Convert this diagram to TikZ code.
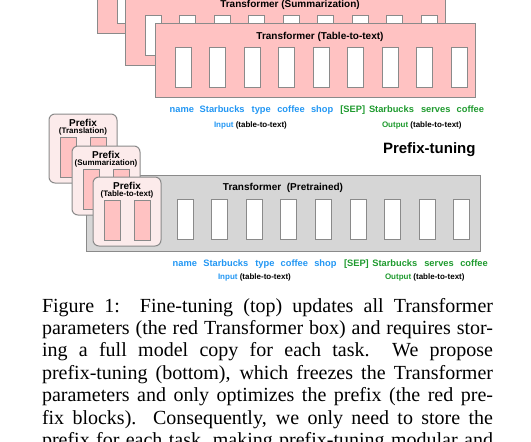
\documentclass[tikz,border=0pt]{standalone}
\usepackage{fontspec}
\setmainfont{Liberation Serif}
\newfontfamily\hv{Liberation Sans}
\usetikzlibrary{positioning}
\definecolor{boxpink}{HTML}{FFC2C2}
\definecolor{prefpink}{HTML}{FCEBEB}
\definecolor{frozen}{HTML}{D6D6D6}
\definecolor{edge}{HTML}{8A8A8A}
\definecolor{inblue}{HTML}{2196F3}
\definecolor{outgreen}{HTML}{1E9A2E}
\newcommand{\capline}[1]{\hbox to\hsize{#1}}

\begin{document}
\begin{tikzpicture}[x=1pt, y=-1pt,
    every node/.style={inner sep=0pt, outer sep=0pt},
    tbox/.style={draw=edge, line width=1pt, fill=boxpink, anchor=north west,
                 minimum width=320pt, minimum height=74pt},
    pbox/.style={draw=edge, line width=1pt, fill=frozen, anchor=north west,
                 minimum width=394pt, minimum height=76pt},
    pfbox/.style={draw=edge, line width=1pt, fill=prefpink, rounded corners=6pt,
                  anchor=north west, minimum width=68pt, minimum height=69pt},
    slot/.style={draw=edge, line width=0.8pt, fill=white, anchor=north west,
                 minimum width=16pt, minimum height=40pt},
    pslot/.style={slot, fill=boxpink},
    ttitle/.style={font=\hv\bfseries\fontsize{10}{12}\selectfont},
    subtitle/.style={font=\hv\bfseries\fontsize{8}{10}\selectfont},
    tok/.style={anchor=base west, font=\hv\bfseries\fontsize{9.3}{11}\selectfont},
    lab/.style={anchor=base west, font=\hv\bfseries\fontsize{8}{10}\selectfont}]
  \useasboundingbox (0,0) rectangle (531,442);
  \clip (0,0) rectangle (531,442);

  % fine-tuning: one full transformer per task
  \foreach \bx/\by/\task/\nm in {97/-41/Translation/ftA, 125/-9/Summarization/ftB,
                                155/23/Table-to-text/ftC} {
    \node[tbox] (\nm) at (\bx,\by) {};
    \node[ttitle] (\nm-t) at ([xshift=5pt, yshift=-13.5pt]\nm.north) {Transformer (\task)};
    \foreach \k in {0,...,8}
      \node[slot] (\nm-s\k) at (\bx+20+34.5*\k, \by+24) {};
  }

  % tokens (top)
  \foreach \x/\w [count=\i] in {169.7/name, 199.7/Starbucks, 251.7/type,
                                277.3/coffee, 311/shop}
    \node[tok, text=inblue] (inA-\i) at (\x,112) {\w};
  \foreach \x/\w [count=\i] in {340.3/{[SEP]}, 369/Starbucks, 421/serves, 456.7/coffee}
    \node[tok, text=outgreen] (outA-\i) at (\x,112) {\w};
  \node[lab] (inlabA) at (214,127) {\textcolor{inblue}{Input} (table-to-text)};
  \node[lab] (outlabA) at (382,127) {\textcolor{outgreen}{Output} (table-to-text)};

  \node[anchor=base west, font=\hv\bfseries\fontsize{15}{18}\selectfont]
    (ptlabel) at (383,153.5) {Prefix-tuning};

  % prefix-tuning: frozen transformer
  \node[pbox] (pre) at (86,175) {};
  \node[ttitle] (pre-t) at ([yshift=-13pt]pre.north) {Transformer~~(Pretrained)};
  \foreach \k in {0,...,8}
    \node[slot] (pre-s\k) at (177+34.6*\k, 199) {};

  % one prefix per task
  \foreach \bx/\by/\task/\nm in {49/114/Translation/pfA, 72/146/Summarization/pfB,
                                93/177/Table-to-text/pfC} {
    \node[pfbox] (\nm) at (\bx,\by) {};
    \node[ttitle] (\nm-t) at ([yshift=-8.5pt]\nm.north) {Prefix};
    \node[subtitle] (\nm-st) at ([yshift=-17.5pt]\nm.north) {(\task)};
    \node[pslot] (\nm-s1) at (\bx+11, \by+23) {};
    \node[pslot] (\nm-s2) at (\bx+41, \by+23) {};
  }

  % tokens (bottom)
  \foreach \x/\w [count=\i] in {172.7/name, 203.3/Starbucks, 255.3/type,
                                280.7/coffee, 314.3/shop}
    \node[tok, text=inblue] (inB-\i) at (\x,266) {\w};
  \foreach \x/\w [count=\i] in {344/{[SEP]}, 372.3/Starbucks, 424.3/serves, 460.3/coffee}
    \node[tok, text=outgreen] (outB-\i) at (\x,266) {\w};
  \node[lab] (inlabB) at (218,279) {\textcolor{inblue}{Input} (table-to-text)};
  \node[lab] (outlabB) at (385,279) {\textcolor{outgreen}{Output} (table-to-text)};

  % caption
  \node[anchor=base west] (cap) at (42,312) {\vtop{\hsize=451pt
      \fontsize{20}{22.4}\selectfont \baselineskip=22.4pt
      \capline{Figure 1:\quad Fine-tuning (top) updates all Transformer}
      \capline{parameters (the red Transformer box) and requires stor-}
      \capline{ing a full model copy for each task.\ \ We propose}
      \capline{prefix-tuning (bottom), which freezes the Transformer}
      \capline{parameters and only optimizes the prefix (the red pre-}
      \capline{fix blocks).\ \ Consequently, we only need to store the}
      \capline{prefix for each task, making prefix-tuning modular and}}};
\end{tikzpicture}
\end{document}
